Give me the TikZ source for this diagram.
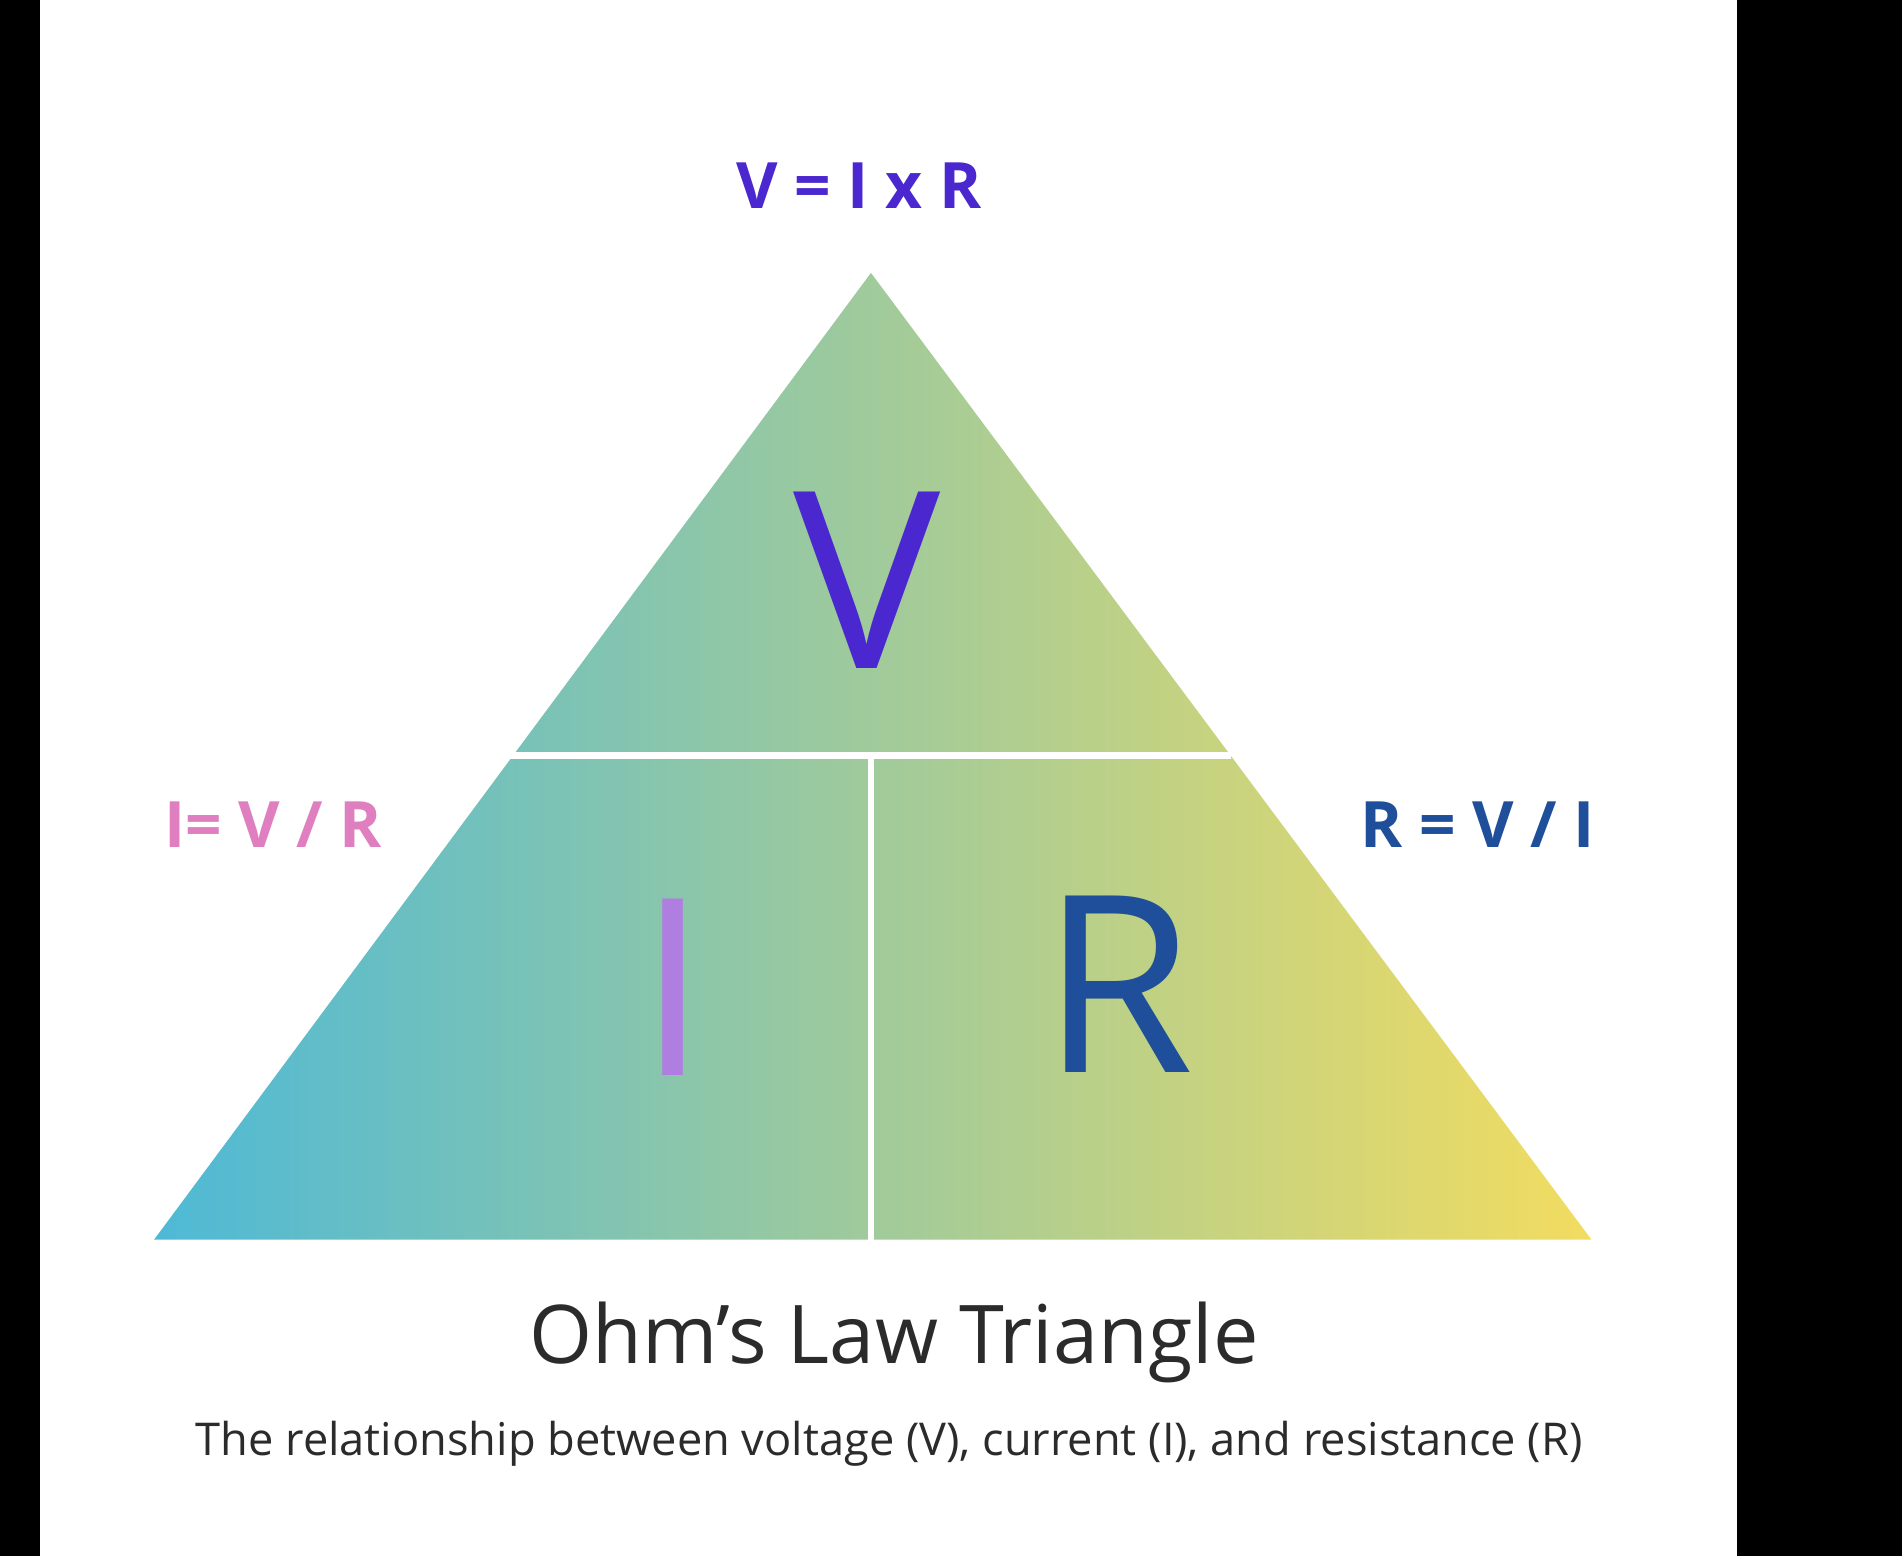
\documentclass[tikz,border=0pt]{standalone}
\usepackage{fontspec}
\setmainfont{Open Sans}
\usetikzlibrary{positioning}
\definecolor{vblue}{HTML}{4A27CF}
\definecolor{rblue}{HTML}{1F4E9A}
\definecolor{ipink}{HTML}{E07FC0}
\definecolor{ililac}{HTML}{B07DE0}
\definecolor{tgray}{HTML}{2B2B2B}
\begin{document}
\begin{tikzpicture}[
                x=1cm,y=-1cm,
                formula/.style={font=\fontsize{15}{16}\selectfont\bfseries},
                bigletter/.style={font=\fontsize{58}{60}\selectfont},
                divider/.style={white,line width=1.6pt}]

% frame
\useasboundingbox (0,0) rectangle (15.68,12.83);
\fill[black] (0,0) rectangle (15.68,12.83);
\fill[white] (0.33,0) rectangle (14.32,12.83);

% triangle
\coordinate (top) at (7.18,2.25);
\coordinate (bl) at (1.27,10.22);
\coordinate (br) at (13.12,10.22);
\begin{scope}
  \clip (top) -- (bl) -- (br) -- cycle;
  \shade[left color={rgb,255:red,78;green,185;blue,214},
         middle color={rgb,255:red,140;green,204;blue,164},
         right color={rgb,255:red,242;green,220;blue,96}]
    (1.27,2.25) rectangle (13.12,10.22);
\end{scope}

% dividers
\coordinate (hl) at (4.20,6.23);
\coordinate (hr) at (10.15,6.23);
\coordinate (vt) at (7.18,6.23);
\coordinate (vb) at (7.18,10.22);
\draw[divider] (hl) -- (hr);
\draw[divider] (vt) -- (vb);

% letters
\node[bigletter,text=vblue] (V) at (7.15,4.78) {V};
\node[bigletter,text=ililac] (I) at (5.55,8.14) {I};
\node[bigletter,text=rblue] (R) at (9.22,8.11) {R};

% formulas
\node[formula,text=vblue] (VIR) at (7.08,1.53) {V = I x R};
\node[formula,text=ipink] (IVR) at (2.25,6.80) {I= V / R};
\node[formula,text=rblue] (RVI) at (12.18,6.80) {R = V / I};

% captions
\node[text=tgray,font=\fontsize{19}{21}\selectfont] (title) at (7.37,11.07) {Ohm’s Law Triangle};
\node[text=tgray,font=\fontsize{10.6}{12}\selectfont] (sub) at (7.33,11.90)
  {The relationship between voltage (V), current (I), and resistance (R)};

\end{tikzpicture}
\end{document}
